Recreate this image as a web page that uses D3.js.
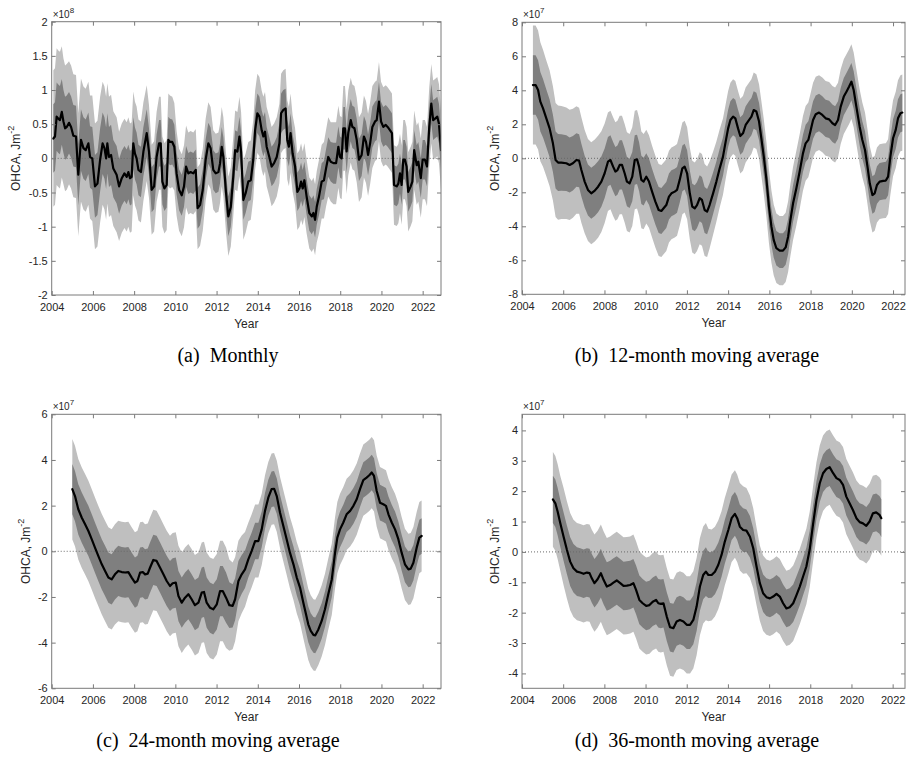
<!DOCTYPE html>
<html><head><meta charset="utf-8">
<script src="https://cdn.jsdelivr.net/npm/d3@7"></script>
<style>body{margin:0;background:#fff} svg{display:block}</style>
</head><body><svg id="fig" width="906" height="762"></svg>
<script>
// ---------------- DATA (values in units of the axis exponent) ----------------
const xTickYears = [2004,2006,2008,2010,2012,2014,2016,2018,2020,2022];

// (a) Monthly, x10^8
const aYears = [2004.08,2004.16,2004.24,2004.32,2004.40,2004.49,2004.57,2004.65,2004.73,2004.84,
 2004.94,2005.05,2005.18,2005.29,2005.42,2005.54,2005.65,2005.78,2005.86,2005.97,
 2006.10,2006.22,2006.35,2006.47,2006.56,2006.64,2006.70,2006.78,2006.88,2006.99,
 2007.15,2007.27,2007.40,2007.53,2007.64,2007.72,2007.80,2007.88,2007.96,2008.04,
 2008.12,2008.21,2008.33,2008.45,2008.61,2008.72,2008.85,2008.97,2009.09,2009.21,
 2009.29,2009.37,2009.47,2009.58,2009.66,2009.74,2009.85,2009.95,2010.06,2010.18,
 2010.31,2010.42,2010.52,2010.63,2010.74,2010.87,2010.99,2011.08,2011.20,2011.33,
 2011.47,2011.60,2011.71,2011.84,2011.96,2012.09,2012.17,2012.25,2012.33,2012.46,
 2012.57,2012.69,2012.81,2012.90,2013.01,2013.11,2013.19,2013.30,2013.41,2013.54,
 2013.66,2013.78,2013.87,2013.98,2014.08,2014.19,2014.27,2014.35,2014.43,2014.56,
 2014.67,2014.79,2014.92,2015.05,2015.13,2015.24,2015.35,2015.43,2015.51,2015.59,
 2015.69,2015.81,2015.92,2016.02,2016.10,2016.18,2016.26,2016.37,2016.50,2016.62,
 2016.70,2016.78,2016.86,2016.97,2017.10,2017.21,2017.31,2017.42,2017.54,2017.67,
 2017.80,2017.91,2017.99,2018.07,2018.15,2018.23,2018.31,2018.39,2018.51,2018.59,
 2018.69,2018.80,2018.91,2019.04,2019.15,2019.25,2019.35,2019.45,2019.56,2019.69,
 2019.77,2019.88,2019.98,2020.09,2020.21,2020.30,2020.42,2020.51,2020.61,2020.74,
 2020.82,2020.90,2020.98,2021.06,2021.14,2021.22,2021.30,2021.42,2021.50,2021.59,
 2021.71,2021.79,2021.91,2022.00,2022.11,2022.21,2022.32,2022.42,2022.51,2022.63,
 2022.71,2022.79,2022.89];
const aMean = [0.29,0.32,0.61,0.58,0.56,0.68,0.54,0.44,0.46,0.52,
 0.46,0.33,0.32,-0.24,0.27,0.15,0.12,0.22,0.02,0.00,
 -0.41,-0.37,-0.02,0.22,0.15,0.00,0.22,0.02,0.05,-0.15,
 -0.24,-0.41,-0.29,-0.22,-0.27,-0.20,-0.29,-0.27,0.22,0.07,
 0.00,-0.17,-0.20,0.10,0.37,0.10,-0.46,-0.41,0.02,0.22,
 0.22,-0.34,-0.44,-0.39,0.27,0.24,0.24,0.17,-0.22,-0.46,
 -0.54,-0.41,-0.12,-0.22,-0.20,-0.22,-0.17,-0.73,-0.68,-0.46,
 -0.02,0.22,0.15,-0.17,-0.22,-0.20,-0.07,0.17,0.02,-0.51,
 -0.85,-0.71,-0.27,0.12,0.10,0.32,0.10,-0.61,-0.51,-0.34,
 -0.32,-0.02,0.41,0.66,0.61,0.41,0.32,0.39,0.17,0.02,
 -0.12,-0.07,0.02,0.22,0.66,0.71,0.73,0.27,0.17,0.37,
 0.07,-0.12,-0.49,-0.44,-0.34,-0.44,-0.32,-0.56,-0.80,-0.85,
 -0.80,-0.90,-0.71,-0.56,-0.34,-0.32,-0.15,0.02,-0.05,-0.07,
 -0.07,0.17,0.02,0.00,0.44,0.44,0.10,0.37,0.56,0.46,
 0.44,0.27,-0.02,0.05,0.32,0.24,0.05,0.22,0.46,0.54,
 0.56,0.83,0.54,0.46,0.49,0.46,0.41,0.37,-0.39,-0.41,
 -0.37,-0.22,-0.39,-0.02,-0.02,-0.12,-0.49,-0.41,-0.34,0.12,
 -0.10,-0.05,-0.29,-0.02,-0.02,-0.12,0.46,0.80,0.56,0.59,
 0.61,0.51,0.12];
const aSd = [0.50,0.50,0.50,0.50,0.50,0.48,0.46,0.46,0.46,0.45,
 0.45,0.45,0.45,0.45,0.45,0.45,0.45,0.45,0.45,0.46,
 0.46,0.46,0.46,0.45,0.45,0.45,0.44,0.44,0.44,0.42,
 0.42,0.40,0.40,0.40,0.40,0.40,0.40,0.40,0.38,0.38,
 0.38,0.37,0.37,0.36,0.35,0.34,0.33,0.33,0.33,0.34,
 0.34,0.33,0.33,0.33,0.34,0.34,0.33,0.32,0.31,0.30,
 0.30,0.30,0.30,0.30,0.30,0.30,0.30,0.30,0.30,0.30,
 0.30,0.30,0.30,0.29,0.29,0.29,0.29,0.29,0.29,0.29,
 0.29,0.29,0.29,0.29,0.29,0.29,0.29,0.29,0.29,0.29,
 0.29,0.29,0.29,0.29,0.29,0.29,0.29,0.29,0.29,0.29,
 0.29,0.29,0.29,0.29,0.29,0.29,0.29,0.29,0.29,0.29,
 0.28,0.28,0.28,0.28,0.28,0.27,0.27,0.27,0.26,0.26,
 0.26,0.26,0.26,0.27,0.27,0.28,0.28,0.29,0.29,0.30,
 0.30,0.30,0.30,0.30,0.31,0.31,0.31,0.31,0.31,0.31,
 0.31,0.31,0.31,0.31,0.30,0.30,0.30,0.30,0.30,0.29,
 0.29,0.29,0.29,0.29,0.29,0.29,0.29,0.29,0.29,0.29,
 0.29,0.29,0.29,0.29,0.29,0.29,0.29,0.29,0.29,0.29,
 0.29,0.29,0.29,0.29,0.29,0.29,0.29,0.29,0.29,0.29,
 0.29,0.29,0.29];
const aYTicks = [-2,-1.5,-1,-0.5,0,0.5,1,1.5,2];

// (b) 12-month moving average, x10^7
const bYears = [2004.53,2004.66,2004.78,2004.89,2005.02,2005.18,2005.34,2005.50,2005.63,2005.75,
 2005.91,2006.15,2006.31,2006.47,2006.64,2006.77,2006.88,2007.04,2007.20,2007.36,
 2007.53,2007.69,2007.85,2008.01,2008.17,2008.29,2008.42,2008.53,2008.63,2008.74,
 2008.85,2008.98,2009.09,2009.22,2009.35,2009.47,2009.58,2009.68,2009.79,2009.90,
 2010.03,2010.16,2010.31,2010.47,2010.63,2010.76,2010.87,2011.00,2011.13,2011.25,
 2011.41,2011.52,2011.65,2011.78,2011.89,2012.01,2012.14,2012.26,2012.38,2012.49,
 2012.62,2012.73,2012.86,2012.98,2013.10,2013.27,2013.43,2013.59,2013.75,2013.88,
 2014.00,2014.11,2014.24,2014.35,2014.48,2014.59,2014.72,2014.85,2015.01,2015.13,
 2015.24,2015.37,2015.50,2015.61,2015.73,2015.86,2015.98,2016.10,2016.21,2016.34,
 2016.50,2016.66,2016.79,2016.91,2017.02,2017.15,2017.31,2017.47,2017.63,2017.76,
 2017.89,2017.99,2018.12,2018.25,2018.41,2018.57,2018.73,2018.90,2019.06,2019.19,
 2019.33,2019.46,2019.61,2019.74,2019.87,2019.98,2020.09,2020.22,2020.38,2020.51,
 2020.64,2020.76,2020.87,2021.00,2021.11,2021.22,2021.35,2021.52,2021.65,2021.76,
 2021.87,2022.00,2022.13,2022.24,2022.36,2022.45];
const bMean = [4.31,4.31,4.02,3.33,2.94,2.35,1.76,0.88,-0.10,-0.25,
 -0.25,-0.29,-0.39,-0.29,-0.10,-0.14,-0.69,-1.37,-1.86,-2.06,
 -1.90,-1.67,-1.37,-0.88,-0.20,-0.10,-0.49,-0.78,-0.69,-0.39,
 -0.39,-0.88,-1.37,-1.47,-1.08,-0.10,-0.06,-0.49,-1.27,-1.37,
 -1.08,-1.37,-1.96,-2.55,-3.04,-3.10,-2.94,-2.75,-2.25,-2.06,
 -1.96,-1.86,-1.27,-0.59,-0.49,-0.88,-2.06,-2.84,-2.94,-2.75,
 -2.35,-2.45,-3.04,-3.14,-2.75,-2.06,-1.37,-0.59,0.10,0.98,
 1.76,2.25,2.45,2.35,1.76,1.31,1.47,1.96,2.25,2.45,
 2.84,2.75,2.16,1.18,0.10,-1.27,-2.84,-4.02,-4.80,-5.29,
 -5.43,-5.43,-5.24,-4.61,-3.63,-2.65,-1.76,-0.78,0.29,0.88,
 1.08,1.57,2.25,2.59,2.69,2.55,2.35,2.29,2.06,1.96,
 2.25,3.04,3.63,3.92,4.22,4.51,4.02,3.04,1.86,1.08,
 0.49,-0.49,-1.47,-2.16,-2.06,-1.57,-1.37,-1.33,-1.31,-1.08,
 0.10,1.18,1.67,2.35,2.65,2.69];
const bSd = [1.75,1.75,1.75,1.75,1.72,1.70,1.70,1.68,1.68,1.68,
 1.66,1.64,1.62,1.60,1.58,1.56,1.55,1.52,1.50,1.50,
 1.50,1.50,1.48,1.46,1.45,1.45,1.45,1.45,1.45,1.45,
 1.45,1.45,1.45,1.45,1.45,1.45,1.45,1.44,1.42,1.40,
 1.38,1.36,1.35,1.35,1.35,1.35,1.35,1.35,1.35,1.35,
 1.35,1.35,1.35,1.35,1.35,1.35,1.35,1.35,1.35,1.35,
 1.35,1.35,1.35,1.33,1.28,1.22,1.18,1.15,1.12,1.10,
 1.10,1.10,1.10,1.10,1.10,1.10,1.10,1.10,1.10,1.10,
 1.10,1.10,1.10,1.10,1.10,1.10,1.08,1.06,1.04,1.02,
 1.02,1.02,1.02,1.04,1.06,1.08,1.10,1.10,1.10,1.10,
 1.10,1.10,1.10,1.10,1.10,1.10,1.10,1.10,1.10,1.10,
 1.10,1.10,1.10,1.10,1.10,1.10,1.10,1.10,1.10,1.10,
 1.10,1.10,1.10,1.10,1.10,1.10,1.10,1.10,1.10,1.10,
 1.12,1.12,1.12,1.12,1.12,1.12];
const bYTicks = [-8,-6,-4,-2,0,2,4,6,8];

// (c) 24-month moving average, x10^7
const cYears = [2005.00,2005.13,2005.29,2005.46,2005.62,2005.78,2005.94,2006.10,2006.26,2006.43,
 2006.59,2006.75,2006.91,2007.07,2007.23,2007.40,2007.56,2007.72,2007.88,2008.04,
 2008.16,2008.29,2008.42,2008.53,2008.66,2008.77,2008.93,2009.09,2009.26,2009.42,
 2009.58,2009.74,2009.87,2010.02,2010.15,2010.31,2010.47,2010.63,2010.79,2010.95,
 2011.12,2011.28,2011.39,2011.52,2011.68,2011.84,2012.01,2012.17,2012.30,2012.46,
 2012.62,2012.78,2012.90,2013.06,2013.22,2013.38,2013.54,2013.70,2013.87,2014.03,
 2014.19,2014.35,2014.51,2014.67,2014.79,2014.92,2015.08,2015.24,2015.40,2015.56,
 2015.73,2015.89,2016.05,2016.21,2016.34,2016.45,2016.57,2016.70,2016.79,2016.94,
 2017.10,2017.26,2017.42,2017.59,2017.75,2017.86,2017.99,2018.15,2018.31,2018.48,
 2018.64,2018.80,2018.96,2019.12,2019.28,2019.41,2019.53,2019.64,2019.77,2019.93,
 2020.09,2020.22,2020.34,2020.50,2020.66,2020.82,2020.98,2021.14,2021.31,2021.42,
 2021.55,2021.71,2021.84,2021.95];
const cMean = [2.72,2.42,1.84,1.47,1.18,0.89,0.53,0.16,-0.20,-0.57,
 -0.86,-1.15,-1.23,-1.01,-0.86,-0.91,-0.93,-0.91,-1.15,-1.37,
 -1.30,-0.93,-0.91,-1.01,-0.98,-0.72,-0.38,-0.42,-0.72,-1.01,
 -1.30,-1.52,-1.40,-1.37,-1.96,-2.25,-2.03,-1.88,-2.10,-2.36,
 -2.25,-1.81,-1.78,-2.25,-2.47,-2.54,-2.32,-1.74,-1.74,-2.03,
 -2.36,-2.39,-2.10,-1.30,-1.01,-0.79,-0.35,0.01,0.45,0.45,
 0.96,1.77,2.35,2.72,2.74,2.42,1.69,1.11,0.53,-0.06,
 -0.57,-1.15,-1.59,-2.25,-2.76,-3.20,-3.49,-3.66,-3.68,-3.42,
 -3.05,-2.54,-1.88,-1.23,-0.06,0.60,0.96,1.26,1.62,1.77,
 1.99,2.28,2.72,3.12,3.23,3.33,3.45,3.30,2.64,2.13,
 2.06,1.99,1.62,1.26,0.96,0.53,-0.06,-0.57,-0.79,-0.76,
 -0.50,0.16,0.60,0.67];
const cSd = [1.10,1.10,1.10,1.10,1.10,1.10,1.10,1.10,1.10,1.10,
 1.10,1.10,1.10,1.10,1.10,1.10,1.10,1.10,1.10,1.10,
 1.10,1.10,1.10,1.10,1.10,1.10,1.10,1.10,1.10,1.10,
 1.10,1.10,1.10,1.10,1.10,1.10,1.10,1.10,1.10,1.10,
 1.10,1.10,1.10,1.10,1.10,1.10,1.10,1.10,1.10,1.10,
 1.00,0.95,0.92,0.88,0.85,0.82,0.80,0.80,0.80,0.80,
 0.78,0.78,0.78,0.78,0.78,0.78,0.78,0.78,0.78,0.78,
 0.78,0.78,0.78,0.78,0.78,0.78,0.78,0.78,0.78,0.78,
 0.78,0.78,0.78,0.78,0.78,0.78,0.78,0.78,0.78,0.78,
 0.78,0.78,0.78,0.78,0.78,0.78,0.78,0.78,0.78,0.78,
 0.78,0.78,0.78,0.78,0.78,0.78,0.78,0.78,0.78,0.78,
 0.78,0.78,0.78,0.78];
const cYTicks = [-6,-4,-2,0,2,4,6];

// (d) 36-month moving average, x10^7
const dYears = [2005.50,2005.62,2005.73,2005.86,2006.02,2006.18,2006.34,2006.50,2006.67,2006.83,
 2006.99,2007.15,2007.28,2007.39,2007.52,2007.67,2007.83,2007.96,2008.12,2008.28,
 2008.44,2008.60,2008.77,2008.93,2009.09,2009.25,2009.41,2009.54,2009.70,2009.86,
 2010.03,2010.19,2010.35,2010.51,2010.62,2010.74,2010.87,2011.03,2011.19,2011.35,
 2011.51,2011.67,2011.84,2012.00,2012.16,2012.32,2012.48,2012.64,2012.80,2012.93,
 2013.05,2013.21,2013.37,2013.53,2013.69,2013.85,2014.02,2014.18,2014.34,2014.45,
 2014.58,2014.74,2014.90,2015.07,2015.23,2015.39,2015.55,2015.71,2015.87,2016.04,
 2016.20,2016.36,2016.52,2016.68,2016.84,2017.00,2017.17,2017.33,2017.49,2017.65,
 2017.81,2017.97,2018.14,2018.30,2018.46,2018.62,2018.78,2018.94,2019.11,2019.27,
 2019.43,2019.59,2019.75,2019.91,2020.07,2020.24,2020.40,2020.56,2020.72,2020.88,
 2021.04,2021.20,2021.36,2021.45];
const dMean = [1.73,1.60,1.33,0.94,0.50,0.07,-0.32,-0.54,-0.65,-0.68,
 -0.72,-0.68,-0.70,-0.87,-1.03,-0.90,-0.70,-0.92,-1.14,-1.09,
 -1.01,-0.94,-1.03,-1.12,-1.11,-1.09,-1.03,-1.25,-1.58,-1.69,
 -1.78,-1.75,-1.64,-1.58,-1.69,-1.71,-1.69,-2.13,-2.48,-2.51,
 -2.29,-2.24,-2.29,-2.40,-2.40,-2.24,-1.80,-1.14,-0.76,-0.65,
 -0.76,-0.76,-0.65,-0.43,-0.10,0.34,0.72,1.11,1.25,1.11,
 0.83,0.72,0.70,0.50,0.12,-0.48,-1.03,-1.36,-1.49,-1.53,
 -1.47,-1.38,-1.47,-1.69,-1.86,-1.82,-1.69,-1.42,-1.14,-0.81,
 -0.48,0.07,0.94,1.71,2.26,2.59,2.73,2.79,2.59,2.43,
 2.37,2.21,1.82,1.60,1.38,1.11,0.98,0.94,0.86,1.00,
 1.27,1.30,1.22,1.11];
const dSd = [0.78,0.78,0.78,0.78,0.80,0.80,0.80,0.80,0.80,0.80,
 0.80,0.80,0.80,0.80,0.80,0.80,0.80,0.80,0.80,0.80,
 0.80,0.80,0.80,0.80,0.80,0.80,0.80,0.80,0.80,0.80,
 0.80,0.80,0.80,0.80,0.80,0.80,0.80,0.80,0.80,0.80,
 0.80,0.80,0.80,0.80,0.80,0.80,0.80,0.80,0.80,0.80,
 0.76,0.75,0.74,0.73,0.72,0.72,0.72,0.72,0.72,0.72,
 0.72,0.72,0.70,0.68,0.66,0.64,0.62,0.62,0.62,0.62,
 0.62,0.62,0.62,0.62,0.62,0.62,0.62,0.62,0.62,0.62,
 0.62,0.62,0.62,0.62,0.62,0.62,0.62,0.62,0.62,0.62,
 0.62,0.62,0.62,0.62,0.62,0.62,0.62,0.62,0.62,0.62,
 0.62,0.62,0.62,0.62];
const dYTicks = [-4,-3,-2,-1,0,1,2,3,4];

// ---------------- DRAWING ----------------
const svg = d3.select('#fig');
const SANS = "'Liberation Sans', Arial, Helvetica, sans-serif";
const SERIF = "'Liberation Serif', 'Times New Roman', serif";
const TXT = '#262626', AX = '#7a7a7a';

const panels = [
  {id:'a', years:aYears, mean:aMean, sd:aSd, yTicks:aYTicks, exp:'8', yDomain:[-2,2], xDomain:[2004,2022.89],
   box:{l:51.7,r:441,t:21.7,b:295}, ylabOff:35, caption:'(a)  Monthly', capX:228, capY:362},
  {id:'b', years:bYears, mean:bMean, sd:bSd, yTicks:bYTicks, exp:'7', yDomain:[-8,8], xDomain:[2004,2022.58],
   box:{l:522,r:905,t:22.3,b:294.3}, ylabOff:26, caption:'(b)  12-month moving average', capX:697, capY:362},
  {id:'c', years:cYears, mean:cMean, sd:cSd, yTicks:cYTicks, exp:'7', yDomain:[-6,6], xDomain:[2004,2022.89],
   box:{l:51.7,r:441,t:414.3,b:688.3}, ylabOff:25, caption:'(c)  24-month moving average', capX:218, capY:747},
  {id:'d', years:dYears, mean:dMean, sd:dSd, yTicks:dYTicks, exp:'7', yDomain:[-4.49,4.53], xDomain:[2004,2022.6],
   box:{l:522,r:905,t:414.3,b:688.3}, ylabOff:26, caption:'(d)  36-month moving average', capX:697, capY:747}
];

const defs = svg.append('defs');

function styleAxis(g){
  g.select('.domain').remove();
  g.selectAll('.tick line').attr('stroke', AX).attr('stroke-width', 1);
  g.selectAll('.tick text').attr('fill', TXT).style('font-family', SANS).style('font-size', '11px');
}

panels.forEach(p => {
  const b = p.box;
  const x = d3.scaleLinear().domain(p.xDomain).range([b.l, b.r]);
  const y = d3.scaleLinear().domain(p.yDomain).range([b.b, b.t]);
  const n = Math.min(p.years.length, p.mean.length, p.sd.length);
  const pts = d3.range(n).map(i => ({t:p.years[i], m:p.mean[i], s:p.sd[i]}));

  defs.append('clipPath').attr('id','clip-'+p.id)
    .append('rect').attr('x',b.l).attr('y',b.t).attr('width',b.r-b.l).attr('height',b.b-b.t);

  const g = svg.append('g');
  const plot = g.append('g').attr('clip-path','url(#clip-'+p.id+')');
  const band = k => d3.area().x(d=>x(d.t)).y0(d=>y(d.m - k*d.s)).y1(d=>y(d.m + k*d.s));
  plot.append('path').datum(pts).attr('d', band(2)).attr('fill','#bfbfbf');
  plot.append('path').datum(pts).attr('d', band(1)).attr('fill','#7f7f7f');
  plot.append('line').attr('x1',b.l).attr('x2',b.r).attr('y1',y(0)).attr('y2',y(0))
    .attr('stroke','#6a6a6a').attr('stroke-width',1).attr('stroke-dasharray','1,2');
  plot.append('path').datum(pts)
    .attr('d', d3.line().x(d=>x(d.t)).y(d=>y(d.m)))
    .attr('fill','none').attr('stroke','#000').attr('stroke-width',2.2)
    .attr('stroke-linejoin','round').attr('stroke-linecap','round');

  // axes (ticks pointing inwards, as in the original)
  g.append('g').attr('transform',`translate(0,${b.b})`)
    .call(d3.axisBottom(x).tickValues(xTickYears).tickFormat(d3.format('d')).tickSizeInner(-4).tickSizeOuter(0).tickPadding(8))
    .call(styleAxis);
  g.append('g').attr('transform',`translate(0,${b.t})`)
    .call(d3.axisTop(x).tickValues(xTickYears).tickFormat('').tickSizeInner(-4).tickSizeOuter(0))
    .call(styleAxis);
  g.append('g').attr('transform',`translate(${b.l},0)`)
    .call(d3.axisLeft(y).tickValues(p.yTicks).tickFormat(d=>String(d)).tickSizeInner(-4).tickSizeOuter(0).tickPadding(4))
    .call(styleAxis);
  g.append('g').attr('transform',`translate(${b.r},0)`)
    .call(d3.axisRight(y).tickValues(p.yTicks).tickFormat('').tickSizeInner(-4).tickSizeOuter(0))
    .call(styleAxis);

  g.append('rect').attr('x',b.l).attr('y',b.t).attr('width',b.r-b.l).attr('height',b.b-b.t)
    .attr('fill','none').attr('stroke',AX).attr('stroke-width',1);

  // exponent
  const ex = g.append('text').attr('x', b.l + 1).attr('y', b.t - 4)
    .attr('fill', TXT).style('font-family', SANS).style('font-size','10px');
  ex.append('tspan').text('\u00d710');
  ex.append('tspan').attr('dy', -5).style('font-size','8px').text(p.exp);

  // axis labels
  g.append('text').attr('x',(b.l+b.r)/2).attr('y', b.b + 33).attr('text-anchor','middle')
    .attr('fill', TXT).style('font-family', SANS).style('font-size','12px').text('Year');
  const yl = g.append('text')
    .attr('transform',`translate(${b.l - p.ylabOff},${(b.t+b.b)/2}) rotate(-90)`)
    .attr('text-anchor','middle').attr('dominant-baseline','middle')
    .attr('fill', TXT).style('font-family', SANS).style('font-size','12px');
  yl.append('tspan').text('OHCA, Jm');
  yl.append('tspan').attr('dy',-5).style('font-size','9px').text('-2');

  // caption
  svg.append('text').attr('x', p.capX).attr('y', p.capY).attr('text-anchor','middle')
    .attr('fill','#000').style('font-family', SERIF).style('font-size','20px')
    .style('white-space','pre').text(p.caption);
});
</script>
</body></html>
